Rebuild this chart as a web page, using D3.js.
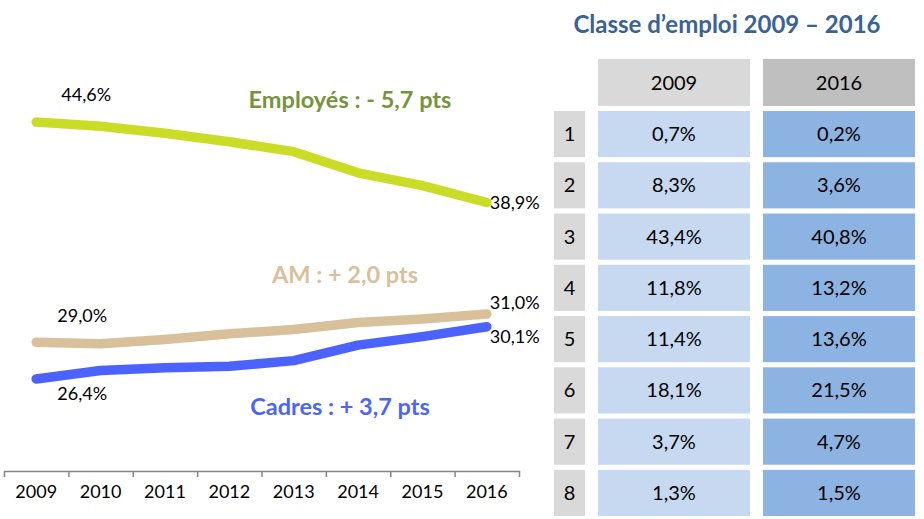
<!DOCTYPE html>
<html>
<head>
<meta charset="utf-8">
<script src="https://cdn.jsdelivr.net/npm/d3@7"></script>
<style>
  body { margin: 0; background: #fff; }
  text { font-family: Lato, "Open Sans", sans-serif; }
</style>
</head>
<body>
<div id="chart"></div>
<script>
// line chart data
const years = [2009, 2010, 2011, 2012, 2013, 2014, 2015, 2016];
const employes = [44.6, 44.3, 43.8, 43.2, 42.5, 41.0, 40.1, 38.9];
const am = [29.0, 28.9, 29.2, 29.6, 29.9, 30.4, 30.65, 31.0];
const cadres = [26.4, 27.0, 27.2, 27.3, 27.7, 28.8, 29.4, 30.1];

// table data
const tableTitle = "Classe d\u2019emploi 2009 \u2013 2016";
const classes = [1, 2, 3, 4, 5, 6, 7, 8];
const tableYears = ["2009", "2016"];
const class2009 = [0.7, 8.3, 43.4, 11.8, 11.4, 18.1, 3.7, 1.3];
const class2016 = [0.2, 3.6, 40.8, 13.2, 13.6, 21.5, 4.7, 1.5];

const fr = d3.formatLocale({ decimal: ",", thousands: " ", grouping: [3], currency: ["", "€"] });
const pct = v => fr.format(".1f")(v) + "%";

const svg = d3.select("#chart").append("svg")
  .attr("width", 924).attr("height", 519);

// ---- line chart ----
var x = d3.scaleBand().domain(years).range([4, 519]);
var y = d3.scaleLinear().domain([26.4, 44.6]).range([379, 122]);
const cx = d => x(d) + x.bandwidth() / 2;

// axis with ticks between categories
svg.append("g")
  .attr("transform", "translate(0,471)")
  .call(d3.axisBottom(x).tickSize(0).tickSizeOuter(6).tickPadding(14))
  .call(g => g.select(".domain").attr("stroke", "#868686").attr("stroke-width", 1.5))
  .call(g => g.selectAll("text").attr("font-size", 18).attr("fill", "#000")
    .attr("font-family", "Lato, 'Open Sans', sans-serif"));

var xb = d3.scaleLinear().domain([0, years.length]).range([4, 519]);
svg.append("g")
  .attr("transform", "translate(0,471)")
  .call(d3.axisBottom(xb).tickValues(d3.range(1, years.length)).tickSize(6).tickSizeOuter(0).tickFormat(""))
  .call(g => g.select(".domain").remove())
  .call(g => g.selectAll("line").attr("stroke", "#868686").attr("stroke-width", 1.5));

const series = [
  { name: "employes", values: employes, color: "#cbdc26" },
  { name: "am", values: am, color: "#d8c09b" },
  { name: "cadres", values: cadres, color: "#4b62ff" }
];

var line = d3.line()
  .x((d, i) => cx(years[i]))
  .y(d => y(d));

series.forEach(s => {
  svg.append("path")
    .datum(s.values)
    .attr("fill", "none")
    .attr("stroke", s.color)
    .attr("stroke-width", 9.5)
    .attr("stroke-linecap", "round")
    .attr("stroke-linejoin", "round")
    .attr("d", line);
});

// data labels
const last = years.length - 1;
function label(xv, yv, txt, anchor) {
  svg.append("text")
    .attr("x", xv).attr("y", yv)
    .attr("text-anchor", anchor)
    .attr("font-size", 18)
    .attr("fill", "#000")
    .text(txt);
}
label(cx(years[0]) + 50, y(employes[0]) - 21, pct(employes[0]), "middle");
label(cx(years[0]) + 46, y(am[0]) - 20, pct(am[0]), "middle");
label(cx(years[0]) + 46, y(cadres[0]) + 21, pct(cadres[0]), "middle");
label(cx(years[last]) + 3, y(employes[last]) + 7, pct(employes[last]), "start");
label(cx(years[last]) + 3, y(am[last]) - 5, pct(am[last]), "start");
label(cx(years[last]) + 3, y(cadres[last]) + 16, pct(cadres[last]), "start");

// series annotations
function note(xv, yv, txt, color) {
  svg.append("text")
    .attr("x", xv).attr("y", yv)
    .attr("text-anchor", "middle")
    .attr("font-size", 23.5)
    .attr("font-weight", "bold")
    .attr("fill", color)
    .text(txt);
}
note(350, 108, "Employés : - 5,7 pts", "#77933c");
note(345, 283, "AM : + 2,0 pts", "#d9c09b");
note(340, 415, "Cadres : + 3,7 pts", "#4d65f5");

// ---- table ----
svg.append("text")
  .attr("x", 727).attr("y", 33)
  .attr("text-anchor", "middle")
  .attr("font-size", 24)
  .attr("font-weight", "bold")
  .attr("fill", "#3b6294")
  .text(tableTitle);

const colX = [554, 598, 763];
const colW = [31, 152, 152];
var ry = d3.scaleBand().domain(classes).range([111, 516]).paddingInner(0.1);

// header
const headFill = ["#d9d9d9", "#bfbfbf"];
tableYears.forEach((yr, j) => {
  svg.append("rect")
    .attr("x", colX[j + 1]).attr("y", 59)
    .attr("width", colW[j + 1]).attr("height", 47)
    .attr("fill", headFill[j]);
  svg.append("text")
    .attr("x", colX[j + 1] + colW[j + 1] / 2).attr("y", 82.5)
    .attr("dy", "0.35em")
    .attr("text-anchor", "middle")
    .attr("font-size", 20)
    .text(yr);
});

const cols = [
  { vals: classes, fill: "#d9d9d9", fmt: d => d },
  { vals: class2009, fill: "#c6d9f1", fmt: pct },
  { vals: class2016, fill: "#8db3e2", fmt: pct }
];

cols.forEach((c, j) => {
  const g = svg.append("g");
  g.selectAll("rect")
    .data(classes)
    .enter()
    .append("rect")
    .attr("x", colX[j])
    .attr("y", d => ry(d))
    .attr("width", colW[j])
    .attr("height", ry.bandwidth())
    .attr("fill", c.fill);
  g.selectAll("text")
    .data(classes)
    .enter()
    .append("text")
    .attr("x", colX[j] + colW[j] / 2)
    .attr("y", d => ry(d) + ry.bandwidth() / 2)
    .attr("dy", "0.35em")
    .attr("text-anchor", "middle")
    .attr("font-size", 20)
    .attr("fill", "#000")
    .text((d, i) => c.fmt(c.vals[i]));
});
</script>
</body>
</html>
